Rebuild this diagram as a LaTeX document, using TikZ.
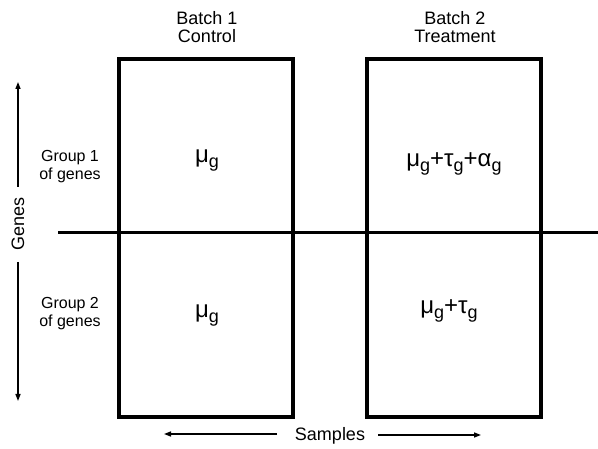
\documentclass[tikz,border=0pt]{standalone}
\usepackage{fontspec}
\setmainfont{Liberation Sans}
\usetikzlibrary{arrows.meta}
\newcommand{\gsub}{\raisebox{-5pt}{\fontsize{18}{20}\selectfont g}}
\begin{document}
\begin{tikzpicture}[x=1pt,y=-1pt,
  boxst/.style={draw,line width=3.5pt,inner sep=0pt,minimum width=174pt,minimum height=358pt},
  lbl/.style={font=\fontsize{16}{18}\selectfont,align=center,inner sep=0pt},
  hdr/.style={font=\fontsize{18}{19}\selectfont,align=center,inner sep=0pt},
  mathlbl/.style={font=\fontsize{24}{26}\selectfont,inner sep=0pt},
  arr/.style={line width=1.3pt,-{Triangle[length=7pt,width=5pt]}}]
\useasboundingbox (0,0) rectangle (598,449);
\node[boxst] (b1) at (206,238) {};
\node[boxst] (b2) at (454,238) {};
\coordinate (hl) at (58,233);
\coordinate (hr) at (600,233);
\draw[line width=3pt] (hl) -- (hr);
\node[hdr] (h1) at (207,27) {Batch 1\\[-1pt]Control};
\node[hdr] (h2) at (455,27) {Batch 2\\[-1pt]Treatment};
\node[lbl] (g1) at (70,167) {Group 1\\of genes};
\node[lbl] (g2) at (70,314) {Group 2\\of genes};
\node[mathlbl] (m1) at (207,161) {μ\gsub};
\node[mathlbl] (m2) at (454,164) {μ\gsub+τ\gsub+α\gsub};
\node[mathlbl] (m3) at (207,316) {μ\gsub};
\node[mathlbl] (m4) at (449,311) {μ\gsub+τ\gsub};
\node[hdr,rotate=90] (gn) at (18,224) {Genes};
\node[hdr] (sm) at (330,436) {Samples};
\coordinate (u0) at (18,187);
\coordinate (u1) at (18,82);
\coordinate (d0) at (18,262);
\coordinate (d1) at (18,401);
\coordinate (l0) at (277,434);
\coordinate (l1) at (164,434);
\coordinate (r0) at (378,435);
\coordinate (r1) at (481,435);
\draw[arr] (u0) -- (u1);
\draw[arr] (d0) -- (d1);
\draw[arr] (l0) -- (l1);
\draw[arr] (r0) -- (r1);
\end{tikzpicture}
\end{document}
